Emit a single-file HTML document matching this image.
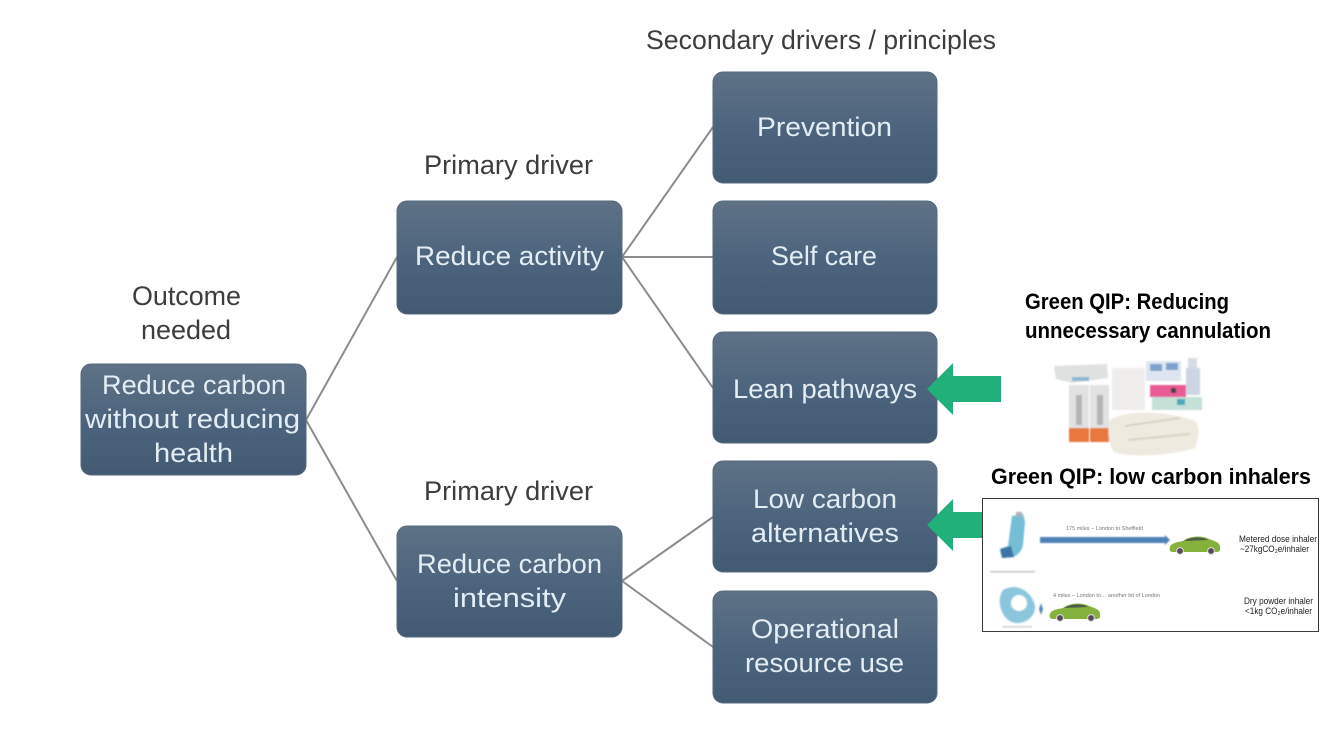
<!DOCTYPE html>
<html lang="en">
<head>
<meta charset="utf-8">
<title>Driver diagram</title>
<style>
html,body{margin:0;padding:0;background:#fff}
svg{display:block}
text{font-family:"Liberation Sans",sans-serif}
.w{fill:#e3edf3;font-size:27px;text-anchor:start}
.k{fill:#3d3d3d;font-size:27px}
.b{fill:#000;font-size:22px;font-weight:bold}
.s{fill:#222;font-size:9.5px}
.t{fill:#777;font-size:5.5px}
</style>
</head>
<body>
<svg xmlns="http://www.w3.org/2000/svg" width="1321" height="730" viewBox="0 0 1321 730">
<defs>
<linearGradient id="g" x1="0" y1="0" x2="0" y2="1">
<stop offset="0" stop-color="#5f7286"/>
<stop offset=".5" stop-color="#4c647d"/>
<stop offset="1" stop-color="#435a73"/>
</linearGradient>
<filter id="soft" x="-10%" y="-10%" width="120%" height="120%"><feGaussianBlur stdDeviation=".8"/></filter>
<filter id="tx" x="-5%" y="-20%" width="110%" height="140%"><feGaussianBlur stdDeviation=".3"/></filter>
<g id="car">
<path d="M0 11 C1 7 8 6 13 5 C19 0 32 -1 39 3 C44 5 49 6 50 10 L50 14 C50 16 47 16 45 16 L3 16 C0 16 -1 14 0 11Z" fill="#85b23c"/>
<path d="M14 5 C21 1 31 0 38 4 Z" fill="#4e5a4c"/>
<circle cx="10" cy="15" r="3.4" fill="#5a4a55" stroke="#ddd" stroke-width="1"/>
<circle cx="41" cy="15" r="3.4" fill="#5a4a55" stroke="#ddd" stroke-width="1"/>
</g>
</defs>

<g stroke="#8c8c8c" stroke-width="2" fill="none">
<path d="M306 420 L397 257"/>
<path d="M306 420 L397 581"/>
<path d="M622 257 L713 127"/>
<path d="M622 257 L713 257"/>
<path d="M622 257 L713 388"/>
<path d="M622 581 L713 517"/>
<path d="M622 581 L713 647"/>
</g>

<g fill="url(#g)" stroke="#56697d" stroke-width="1">
<rect x="81" y="364" width="225" height="111" rx="10"/>
<rect x="397" y="201" width="225" height="113" rx="10"/>
<rect x="397" y="526" width="225" height="111" rx="10"/>
<rect x="713" y="72" width="224" height="111" rx="10"/>
<rect x="713" y="201" width="224" height="113" rx="10"/>
<rect x="713" y="332" width="224" height="111" rx="10"/>
<rect x="713" y="461" width="224" height="111" rx="10"/>
<rect x="713" y="591" width="224" height="112" rx="10"/>
</g>

<g filter="url(#tx)">
<text class="k" x="646" y="49" textLength="350" lengthAdjust="spacingAndGlyphs">Secondary drivers / principles</text>
<text class="k" x="424" y="174" textLength="169" lengthAdjust="spacingAndGlyphs">Primary driver</text>
<text class="k" x="424" y="500" textLength="169" lengthAdjust="spacingAndGlyphs">Primary driver</text>
<text class="k" x="132" y="305" textLength="109" lengthAdjust="spacingAndGlyphs">Outcome</text>
<text class="k" x="141" y="339" textLength="90" lengthAdjust="spacingAndGlyphs">needed</text>

<text class="w" x="102" y="394" textLength="184" lengthAdjust="spacingAndGlyphs">Reduce carbon</text>
<text class="w" x="85" y="428" textLength="215" lengthAdjust="spacingAndGlyphs">without reducing</text>
<text class="w" x="154" y="462" textLength="79" lengthAdjust="spacingAndGlyphs">health</text>

<text class="w" x="415" y="265" textLength="189" lengthAdjust="spacingAndGlyphs">Reduce activity</text>
<text class="w" x="417" y="573" textLength="185" lengthAdjust="spacingAndGlyphs">Reduce carbon</text>
<text class="w" x="453" y="607" textLength="113" lengthAdjust="spacingAndGlyphs">intensity</text>

<text class="w" x="757" y="136" textLength="135" lengthAdjust="spacingAndGlyphs">Prevention</text>
<text class="w" x="771" y="265" textLength="106" lengthAdjust="spacingAndGlyphs">Self care</text>
<text class="w" x="733" y="398" textLength="184" lengthAdjust="spacingAndGlyphs">Lean pathways</text>
<text class="w" x="753" y="508" textLength="144" lengthAdjust="spacingAndGlyphs">Low carbon</text>
<text class="w" x="751" y="542" textLength="148" lengthAdjust="spacingAndGlyphs">alternatives</text>
<text class="w" x="751" y="638" textLength="148" lengthAdjust="spacingAndGlyphs">Operational</text>
<text class="w" x="745" y="672" textLength="159" lengthAdjust="spacingAndGlyphs">resource use</text>

<text class="b" x="1025" y="309" textLength="204" lengthAdjust="spacingAndGlyphs">Green QIP: Reducing</text>
<text class="b" x="1025" y="338" textLength="246" lengthAdjust="spacingAndGlyphs">unnecessary cannulation</text>
<text class="b" x="991" y="484" textLength="320" lengthAdjust="spacingAndGlyphs">Green QIP: low carbon inhalers</text>
</g>

<!-- cannulation pack photo -->
<g filter="url(#soft)">
<path d="M1054 366 L1107 364 L1108 378 L1072 383 L1056 379Z" fill="#dfe1e1"/>
<rect x="1072" y="377" width="17" height="4" fill="#8fb8d4"/>
<rect x="1112" y="368" width="33" height="42" fill="#efeeec"/>
<rect x="1146" y="361" width="35" height="20" fill="#dde6f0"/>
<rect x="1150" y="364" width="12" height="7" fill="#7ea2cc"/>
<rect x="1166" y="363" width="12" height="7" fill="#7ea2cc"/>
<rect x="1188" y="358" width="9" height="10" fill="#d8dde4"/>
<rect x="1186" y="368" width="14" height="27" fill="#cdd4e4"/>
<rect x="1150" y="385" width="36" height="12" fill="#ea5c96"/>
<rect x="1171" y="388" width="5" height="5" fill="#444"/>
<rect x="1152" y="397" width="50" height="13" fill="#c4e0d7"/>
<rect x="1177" y="399" width="8" height="6" fill="#4aa9b8"/>
<rect x="1069" y="385" width="20" height="50" fill="#e2e2e2"/>
<rect x="1090" y="385" width="19" height="50" fill="#e2e2e2"/>
<rect x="1069" y="428" width="20" height="14" fill="#e8783c"/>
<rect x="1090" y="428" width="19" height="14" fill="#e8783c"/>
<rect x="1076" y="395" width="6" height="30" fill="#a2a2a2" opacity=".7"/>
<rect x="1097" y="395" width="6" height="30" fill="#a2a2a2" opacity=".7"/>
<path d="M1110 420 C1125 410 1165 410 1195 421 C1201 428 1198 440 1195 448 C1170 456 1130 458 1114 452 C1108 443 1107 430 1110 420Z" fill="#eeeadf"/>
<path d="M1125 426 L1180 418 M1128 440 L1190 434" stroke="#d8d2c2" stroke-width="2" fill="none"/>
</g>

<!-- inhaler comparison panel -->
<rect x="982.5" y="498.5" width="336" height="133" fill="#fff" stroke="#3a3a3a" stroke-width="1"/>
<g filter="url(#soft)">
<path d="M1012 516 L1023 514 L1025 522 L1023 545 C1022 551 1018 554 1014 557 L1002 558 L1000 549 L1008 546Z" fill="#74bed6"/>
<path d="M1000 549 L1011 546 L1014 557 L1002 558Z" fill="#3a75a6"/>
<rect x="1016" y="512" width="6" height="5" fill="#aab4b8"/>
<path d="M1040 537 L1165 537 L1165 535 L1170 540 L1165 545 L1165 543 L1040 543Z" fill="#4f83b8"/>
<path d="M1003 590 C1018 582 1032 592 1035 606 C1036 618 1022 626 1012 622 C1001 618 996 600 1003 590Z" fill="#8cc6dc"/>
<circle cx="1019" cy="603" r="8" fill="#fff"/>
<path d="M1041 603 L1043 609 L1041 615 L1039 609Z" fill="#4f83b8"/>
<rect x="990" y="571" width="45" height="1.5" fill="#c4c4c4"/>
<rect x="1002" y="626" width="30" height="1.5" fill="#d0d0d0"/>
</g>
<use href="#car" x="1170" y="536"/>
<use href="#car" x="1050" y="603"/>
<g filter="url(#tx)">
<text class="t" x="1066" y="530">175 miles – London to Sheffield</text>
<text class="t" x="1053" y="597">4 miles – London to… another bit of London</text>
<text class="s" x="1239" y="542" textLength="78" lengthAdjust="spacingAndGlyphs">Metered dose inhaler</text>
<text class="s" x="1240" y="552" textLength="69" lengthAdjust="spacingAndGlyphs">~27kgCO₂e/inhaler</text>
<text class="s" x="1244" y="604" textLength="69" lengthAdjust="spacingAndGlyphs">Dry powder inhaler</text>
<text class="s" x="1245" y="614" textLength="67" lengthAdjust="spacingAndGlyphs">&lt;1kg CO₂e/inhaler</text>
</g>

<!-- green arrows -->
<polygon points="927,389 953,363 953,376 1001,376 1001,402 953,402 953,415" fill="#21b07a"/>
<polygon points="927,525 953,499 953,512 982,512 982,538 953,538 953,551" fill="#21b07a"/>
</svg>
</body>
</html>
